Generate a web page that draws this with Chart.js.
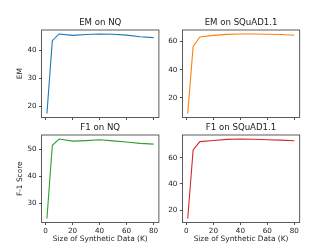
<!DOCTYPE html>
<html>
<head>
<meta charset="utf-8">
<script src="https://cdn.jsdelivr.net/npm/chart.js@4.4.0/dist/chart.umd.min.js"></script>
<style>
  html, body { margin: 0; padding: 0; background: #fff; }
  #wrap { position: relative; width: 333px; height: 250px; overflow: hidden; }
  canvas { position: absolute; }
</style>
</head>
<body>
<div id="wrap">
  <canvas id="emNq" width="166" height="115" style="left:0px;top:10px"></canvas>
  <canvas id="emSquad" width="173" height="115" style="left:160px;top:10px"></canvas>
  <canvas id="f1Nq" width="166" height="135" style="left:0px;top:115px"></canvas>
  <canvas id="f1Squad" width="173" height="135" style="left:160px;top:115px"></canvas>
</div>
<script>
// data
const sizes = [1, 5, 10, 20, 30, 40, 50, 60, 70, 80];
const emNq = [17.3, 43.5, 45.9, 45.4, 45.7, 45.9, 45.8, 45.5, 44.9, 44.6];
const emSquad = [9.0, 56.5, 63.2, 64.3, 65.0, 65.3, 65.3, 65.1, 64.9, 64.4];
const f1Nq = [24.5, 51.4, 53.7, 52.9, 53.1, 53.4, 53.0, 52.6, 52.1, 51.8];
const f1Squad = [13.5, 66.0, 72.4, 73.2, 74.1, 74.4, 74.2, 73.8, 73.5, 73.1];

const xTicks = [0, 20, 40, 60, 80];
const emNqTicks = [20, 30, 40];
const emSquadTicks = [20, 40, 60];
const f1NqTicks = [30, 40, 50];
const f1SquadTicks = [20, 40, 60];

const FONT = "'DejaVu Sans', sans-serif";
const TEXT = '#222';

// axes frame on all four sides, like matplotlib spines
const frame = {
    id: 'frame',
    afterDraw(chart) {
        const { ctx, chartArea: a } = chart;
        ctx.save();
        ctx.strokeStyle = '#333';
        ctx.lineWidth = 0.8;
        ctx.strokeRect(a.left, a.top, a.right - a.left, a.bottom - a.top);
        ctx.restore();
    }
};

// matplotlib-style 5% margins around the data
function pad(values) {
    const lo = Math.min(...values), hi = Math.max(...values);
    const m = (hi - lo) * 0.05;
    return [lo - m, hi + m];
}

function panel(id, o) {
    const [xMin, xMax] = pad(sizes);
    const [yMin, yMax] = pad(o.values);
    return new Chart(document.getElementById(id), {
        type: 'line',
        data: {
            datasets: [{
                data: sizes.map((x, i) => ({ x: x, y: o.values[i] })),
                borderColor: o.color,
                borderWidth: 1.1,
                pointRadius: 0,
                tension: 0,
                fill: false
            }]
        },
        options: {
            responsive: false,
            animation: false,
            events: [],
            layout: { padding: { left: 0, right: o.padRight, top: 0, bottom: 0 } },
            scales: {
                x: {
                    type: 'linear',
                    min: xMin,
                    max: xMax,
                    afterBuildTicks: s => { s.ticks = xTicks.map(v => ({ value: v })); },
                    afterFit: s => { s.height = o.xHeight; },
                    grid: { drawOnChartArea: false, drawTicks: true, tickLength: 2.5, color: '#222', lineWidth: 0.8 },
                    border: { display: false },
                    ticks: {
                        display: o.xLabel !== '',
                        padding: 1.5,
                        maxRotation: 0,
                        color: TEXT,
                        font: { family: FONT, size: 7.2 }
                    },
                    title: {
                        display: o.xLabel !== '',
                        text: o.xLabel,
                        color: TEXT,
                        font: { family: FONT, size: 7.4 },
                        padding: { top: 0, bottom: 6 }
                    }
                },
                y: {
                    type: 'linear',
                    min: yMin,
                    max: yMax,
                    afterBuildTicks: s => { s.ticks = o.yTicks.map(v => ({ value: v })); },
                    afterFit: s => { s.width = o.yWidth; },
                    grid: { drawOnChartArea: false, drawTicks: true, tickLength: 2.5, color: '#222', lineWidth: 0.8 },
                    border: { display: false },
                    ticks: {
                        padding: 2.5,
                        color: TEXT,
                        font: { family: FONT, size: 7.2 }
                    },
                    title: {
                        display: o.yLabel !== '',
                        text: o.yLabel,
                        color: TEXT,
                        font: { family: FONT, size: 7.4 },
                        padding: { top: 15.6, bottom: 0 }
                    }
                }
            },
            plugins: {
                legend: { display: false },
                tooltip: { enabled: false },
                title: {
                    display: true,
                    fullSize: false,
                    text: o.title,
                    color: TEXT,
                    font: { family: FONT, size: 8.6, weight: 'normal' },
                    padding: { top: 7.7, bottom: 1.98 }
                }
            }
        },
        plugins: [frame]
    });
}

panel('emNq', {
    title: 'EM on NQ', values: emNq, color: '#1f77b4', yTicks: emNqTicks,
    yLabel: 'EM', xLabel: '', yWidth: 41.6, padRight: 7.1, xHeight: 7.5
});
panel('emSquad', {
    title: 'EM on SQuAD1.1', values: emSquad, color: '#ff7f0e', yTicks: emSquadTicks,
    yLabel: '', xLabel: '', yWidth: 22.4, padRight: 33.3, xHeight: 7.5
});
panel('f1Nq', {
    title: 'F1 on NQ', values: f1Nq, color: '#2ca02c', yTicks: f1NqTicks,
    yLabel: 'F-1 Score', xLabel: 'Size of Synthetic Data (K)', yWidth: 41.6, padRight: 7.1, xHeight: 27.5
});
panel('f1Squad', {
    title: 'F1 on SQuAD1.1', values: f1Squad, color: '#d62728', yTicks: f1SquadTicks,
    yLabel: '', xLabel: 'Size of Synthetic Data (K)', yWidth: 22.4, padRight: 33.3, xHeight: 27.5
});
</script>
</body>
</html>
